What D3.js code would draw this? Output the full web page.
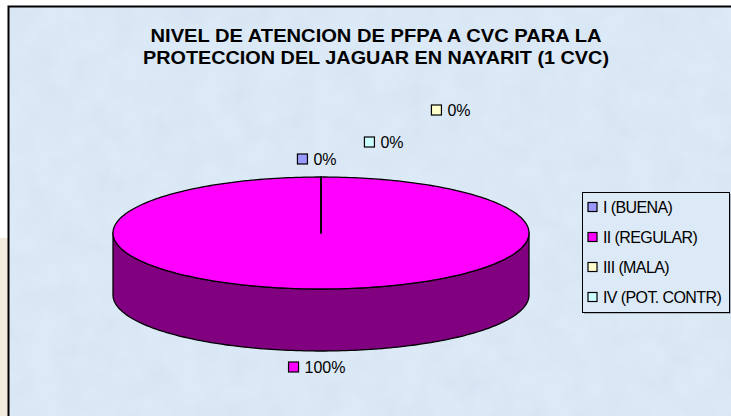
<!DOCTYPE html>
<html>
<head>
<meta charset="utf-8">
<script src="https://cdn.jsdelivr.net/npm/d3@7"></script>
<style>
  html, body { margin: 0; padding: 0; background: #fff; }
  svg { display: block; }
</style>
</head>
<body>
<div id="chart"></div>
<script>
// data
const categories = ["I (BUENA)", "II (REGULAR)", "III (MALA)", "IV  (POT. CONTR)"];
const values = [0, 1, 0, 0];
const colors = ["#9999ff", "#ff00ff", "#ffffcc", "#ccffff"];
const sideColors = ["#4c4c80", "#800080", "#80806a", "#6a8080"];
const titleLines = ["NIVEL DE ATENCION DE PFPA A CVC PARA LA", "PROTECCION DEL JAGUAR EN NAYARIT (1 CVC)"];

const width = 731;
const height = 416;
const cx = 321, cy = 233;
const rx = 208, ry = 56, depth = 62;

const svg = d3.select("#chart").append("svg")
    .attr("width", width)
    .attr("height", height)
    .attr("font-family", "'Liberation Sans', Arial, sans-serif");

const defs = svg.append("defs");
const filt = defs.append("filter").attr("id", "tex")
    .attr("x", 0).attr("y", 0).attr("width", "100%").attr("height", "100%");
filt.append("feTurbulence").attr("type", "fractalNoise")
    .attr("baseFrequency", 0.035).attr("numOctaves", 3).attr("seed", 4).attr("result", "n");
filt.append("feColorMatrix").attr("in", "n").attr("type", "matrix")
    .attr("values", "0 0 0 0 0.55  0 0 0 0 0.65  0 0 0 0 0.8  0 0 0 -1.1 0.7");

// left strip behind the frame
svg.append("rect").attr("x", 0).attr("y", 238).attr("width", 8).attr("height", height - 238)
    .attr("fill", "#f4ebdf");

// chart area
svg.append("rect").attr("x", 8).attr("y", 6).attr("width", width).attr("height", height)
    .attr("fill", "#dce9f6");
svg.append("rect").attr("x", 9).attr("y", 7).attr("width", width).attr("height", height)
    .attr("filter", "url(#tex)").attr("opacity", 0.35);
svg.append("path").attr("d", `M8.5,${height}V6.5H${width}`)
    .attr("fill", "none").attr("stroke", "#000").attr("stroke-width", 2);

// title (stretched a bit wider, like the original picture)
const titleWidths = [451, 466];
svg.append("g")
    .attr("text-anchor", "middle")
    .attr("font-weight", "bold")
    .attr("font-size", 18)
    .selectAll("text")
    .data(titleLines)
    .join("text")
    .attr("x", 376)
    .attr("y", (d, i) => 41.5 + i * 22.5)
    .attr("textLength", (d, i) => titleWidths[i])
    .attr("lengthAdjust", "spacingAndGlyphs")
    .text(d => d);

// 3d pie
const pie = d3.pie().sort(null).value(d => d)(values);
const pt = (a, dy = 0) => [cx + rx * Math.sin(a), cy - ry * Math.cos(a) + dy];
const arcPts = (a0, a1, dy) => {
  const n = Math.max(2, Math.ceil((a1 - a0) / 0.02));
  return d3.range(n + 1).map(i => pt(a0 + (a1 - a0) * i / n, dy));
};

const gPie = svg.append("g");
// sides (front half only, from pi/2 to 3pi/2)
pie.forEach((s, i) => {
  const a0 = Math.max(s.startAngle, Math.PI / 2);
  const a1 = Math.min(s.endAngle, Math.PI * 3 / 2);
  if (a1 <= a0) return;
  const top = arcPts(a0, a1, 0);
  const bot = arcPts(a0, a1, depth).reverse();
  gPie.append("path")
    .attr("d", d3.line()(top.concat(bot)) + "Z")
    .attr("fill", sideColors[i])
    .attr("stroke", "#000")
    .attr("stroke-width", 1.3)
    .attr("stroke-linejoin", "round");
});
// top faces
pie.forEach((s, i) => {
  const pts = [[cx, cy]].concat(arcPts(s.startAngle, s.endAngle, 0));
  gPie.append("path")
    .attr("d", d3.line()(pts) + "Z")
    .attr("fill", colors[i])
    .attr("stroke", "#000")
    .attr("stroke-width", 1.3)
    .attr("stroke-linejoin", "round");
});

// data labels
const total = d3.sum(values);
const fmt = d => Math.round(d / total * 100) + "%";
const zeroOrder = pie.map((s, i) => ({s, i}))
    .filter(o => o.s.value === 0)
    .sort((a, b) => (a.s.startAngle - b.s.startAngle) || (b.i - a.i))
    .map(o => o.i);

const labels = pie.map((s, i) => {
  const mid = (s.startAngle + s.endAngle) / 2;
  let x = cx + rx * Math.sin(mid) - 4;
  let y = cy - ry * Math.cos(mid);
  if (s.value === 0) {
    const k = zeroOrder.indexOf(i);
    x += k * 67;
    y += -18 - (9.5 * k + 7.5 * k * k);
  } else {
    y += (Math.cos(mid) < 0 ? depth + 16 : -18);
  }
  return {x, y, text: fmt(s.value), color: colors[i]};
});

const gLab = svg.append("g").attr("font-size", 16);
labels.forEach(l => {
  const g = gLab.append("g");
  const t = g.append("text").attr("x", 16).attr("dy", "0.35em").text(l.text);
  const w = t.node().getComputedTextLength() + 16;
  g.attr("transform", `translate(${l.x - w / 2},${l.y})`);
  g.append("rect").attr("x", 0).attr("y", -5).attr("width", 10).attr("height", 10)
    .attr("fill", l.color).attr("stroke", "#000").attr("stroke-width", 1.2);
});

// legend
const lg = svg.append("g").attr("transform", "translate(582,192)");
lg.append("rect").attr("x", 2).attr("y", 2).attr("width", 147).attr("height", 120)
    .attr("fill", "#8a96a4").attr("opacity", 0.6);
lg.append("rect").attr("x", 0.5).attr("y", 0.5).attr("width", 147).attr("height", 120)
    .attr("fill", "#dce9f6").attr("stroke", "#000");
const items = lg.selectAll("g.item")
    .data(categories)
    .join("g")
    .attr("class", "item")
    .attr("transform", (d, i) => `translate(6,${15 + i * 30})`);
items.append("rect").attr("x", 0).attr("y", -4.5).attr("width", 9).attr("height", 9)
    .attr("fill", (d, i) => colors[i]).attr("stroke", "#000").attr("stroke-width", 1.2);
items.append("text").attr("x", 15).attr("dy", "0.35em").attr("font-size", 16)
    .attr("letter-spacing", -0.6)
    .text(d => d);
</script>
</body>
</html>
